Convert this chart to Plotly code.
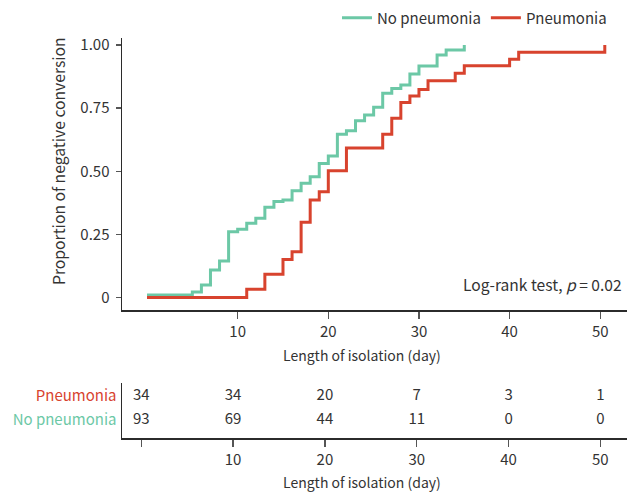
import plotly.graph_objects as go

# ---- data ----
no_pneu_days = [0, 5, 6, 7, 8, 9, 10, 11, 12, 13, 14, 15, 16, 17, 18, 19, 20, 21, 22,
                23, 24, 25, 26, 27, 28, 29, 30, 32, 33, 35]
no_pneu_prop = [0.01, 0.022, 0.05, 0.109, 0.145, 0.26, 0.27, 0.294, 0.314, 0.357, 0.38,
                0.386, 0.423, 0.452, 0.478, 0.531, 0.56, 0.647, 0.66, 0.70, 0.723, 0.753,
                0.809, 0.828, 0.842, 0.885, 0.917, 0.96, 0.98, 1.0]
pneu_days = [0, 11, 13, 15, 16, 17, 18, 19, 20, 22, 26, 27, 28, 29, 30, 31, 34, 35, 40, 41, 50.5]
pneu_prop = [0.0, 0.033, 0.092, 0.15, 0.181, 0.298, 0.386, 0.419, 0.502, 0.592, 0.647,
             0.71, 0.772, 0.798, 0.824, 0.858, 0.888, 0.918, 0.944, 0.971, 1.0]

risk_times = [0, 10, 20, 30, 40, 50]
risk_pneu = [34, 34, 20, 7, 3, 1]
risk_no_pneu = [93, 69, 44, 11, 0, 0]

y_tickvals = [0, 0.25, 0.5, 0.75, 1.0]
y_ticktext = ["0", "0.25", "0.50", "0.75", "1.00"]
x_tickvals = [10, 20, 30, 40, 50]

GREEN = "#6cc8a6"
RED = "#d8432e"
TXT = "#333333"
AXC = "#2b2b2b"
FONT = "Noto Sans CJK KR"
FS = 15

W, H = 627, 492
ML, MR, MT, MB = 122, 0, 38, 54
PW, PH = W - ML - MR, H - MT - MB


def px(x):
    return (x - ML) / PW


def py(y):
    return (H - MB - y) / PH


fig = go.Figure()
fig.add_trace(go.Scatter(x=no_pneu_days, y=no_pneu_prop, mode="lines", name="No pneumonia",
                         line=dict(color=GREEN, width=3, shape="hv"), xaxis="x", yaxis="y",
                         hoverinfo="skip"))
fig.add_trace(go.Scatter(x=pneu_days, y=pneu_prop, mode="lines", name="Pneumonia",
                         line=dict(color=RED, width=3, shape="hv"), xaxis="x", yaxis="y",
                         hoverinfo="skip"))

ROW_P, ROW_N = 0.764, 0.327
fig.add_trace(go.Scatter(x=risk_times, y=[ROW_P] * len(risk_times), mode="text",
                         text=[str(v) for v in risk_pneu], textposition="middle center",
                         textfont=dict(family=FONT, size=FS, color=TXT),
                         showlegend=False, xaxis="x2", yaxis="y2", hoverinfo="skip"))
fig.add_trace(go.Scatter(x=risk_times, y=[ROW_N] * len(risk_times), mode="text",
                         text=[str(v) for v in risk_no_pneu], textposition="middle center",
                         textfont=dict(family=FONT, size=FS, color=TXT),
                         showlegend=False, xaxis="x2", yaxis="y2", hoverinfo="skip"))

main_top, main_bot = 38, 310
risk_top, risk_bot = 383, 438

axis_common = dict(showline=True, linecolor=AXC, linewidth=1.5, ticks="outside",
                   tickcolor="#555555", tickwidth=1.5, showgrid=False, zeroline=False,
                   tickfont=dict(family=FONT, size=FS, color=TXT))

fig.update_layout(
    width=W, height=H, margin=dict(l=ML, r=MR, t=MT, b=MB),
    paper_bgcolor="white", plot_bgcolor="white",
    font=dict(family=FONT, size=FS, color=TXT),
    hovermode=False,
    xaxis=dict(domain=[0, 1], range=[-2.76, 52.95], tickvals=x_tickvals, ticklen=7,
               anchor="y", **axis_common),
    yaxis=dict(domain=[py(main_bot), py(main_top)], range=[-0.0495, 1.0277],
               tickvals=y_tickvals, ticktext=y_ticktext, ticklen=5, anchor="x",
               ticklabelstandoff=3, **axis_common),
    xaxis2=dict(domain=[0, 1], range=[-2.1, 52.9], tickvals=risk_times,
                ticktext=[""] + [str(t) for t in risk_times[1:]], ticklen=7,
                anchor="y2", **axis_common),
    yaxis2=dict(domain=[py(risk_bot), py(risk_top)], range=[0, 1],
                tickvals=[ROW_P, ROW_N],
                ticktext=[f"<span style='color:{RED}'>Pneumonia</span>",
                          f"<span style='color:{GREEN}'>No pneumonia</span>"],
                showline=True, linecolor=AXC, linewidth=1.5, ticks="", showgrid=False,
                zeroline=False, anchor="x2", ticklabelstandoff=1,
                tickfont=dict(family=FONT, size=FS, color=TXT)),
    legend=dict(orientation="h", x=px(612), xanchor="right", y=py(18), yanchor="middle",
                font=dict(family=FONT, size=FS, color=TXT), bgcolor="rgba(0,0,0,0)",
                itemwidth=30),
    showlegend=True,
)

fig.add_annotation(text="Length of isolation (day)", x=px(361.5), y=py(355), xref="paper",
                   yref="paper", showarrow=False, xanchor="center", yanchor="middle",
                   font=dict(family=FONT, size=14, color=TXT))
fig.add_annotation(text="Length of isolation (day)", x=px(361.5), y=py(482), xref="paper",
                   yref="paper", showarrow=False, xanchor="center", yanchor="middle",
                   font=dict(family=FONT, size=14, color=TXT))
fig.add_annotation(text="Proportion of negative conversion", x=px(58), y=py(161),
                   xref="paper", yref="paper", showarrow=False, textangle=-90,
                   xanchor="center", yanchor="middle",
                   font=dict(family=FONT, size=15.7, color=TXT))
fig.add_annotation(text="Log-rank test, <i>p</i> = 0.02", x=px(624), y=py(284),
                   xref="paper", yref="paper", showarrow=False, xanchor="right",
                   yanchor="middle", font=dict(family=FONT, size=15.6, color=TXT))

fig.write_html("out.html", config={"displayModeBar": False, "staticPlot": True},
               post_script="document.body.style.margin='0';document.body.style.overflow='hidden';")
